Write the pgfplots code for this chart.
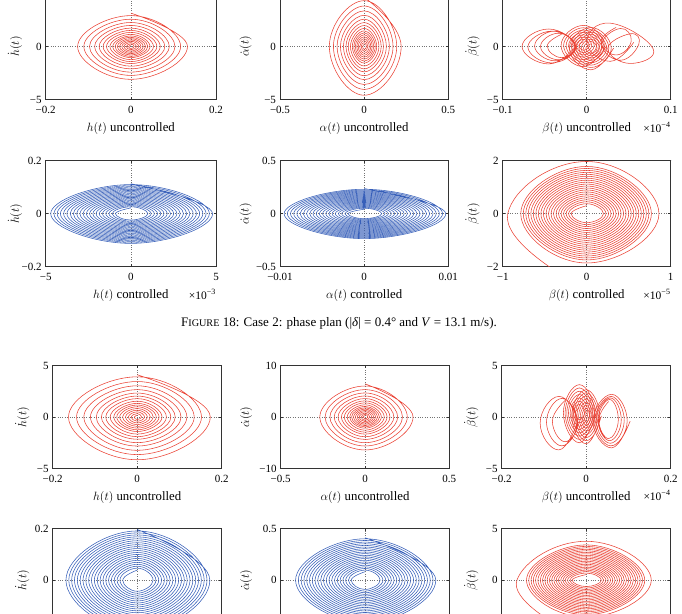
\documentclass[border=0pt]{standalone}
\usepackage{fontspec}
\setmainfont{Liberation Serif}
\usepackage{pgfplots}
\pgfplotsset{compat=1.18}
\definecolor{pr}{RGB}{234,66,52}
\definecolor{pb}{RGB}{55,95,185}
\pgfplotsset{
 pp/.style={scale only axis, width=169pt, height=106pt, anchor=south west,
  scaled ticks=false,
  axis line style={black!80, line width=0.6pt},
  tick align=inside, major tick length=2.5pt, tick style={black!80, line width=0.5pt},
  grid=major, grid style={dotted, black!55, line width=0.6pt},
  tick label style={font=\fontsize{11}{12}\selectfont},
  xticklabel style={yshift=-3pt},
  yticklabel style={xshift=-0.5pt},
  label style={font=\fontsize{12.8}{14}\selectfont},
  xlabel style={at={(axis description cs:0.5,-0.27)}, anchor=center},
  ylabel style={at={(axis description cs:-0.18,0.5)}, anchor=center},
  clip mode=individual},
 rowb/.style={height=103pt, xlabel style={at={(axis description cs:0.5,-0.282)}}},
 colm/.style={ylabel style={at={(axis description cs:-0.205,0.5)}}},
 mult/.style={extra description/.code={\node[anchor=east, font=\fontsize{11.5}{13}\selectfont] at (axis description cs:1.02,-0.262) {×10\textsuperscript{−#1}};}},
 ur/.style={pr, line width=0.55pt, smooth, tension=0.83},
 ub/.style={pb, line width=0.55pt, smooth, tension=0.83},
}
\begin{document}
\begin{tikzpicture}
\path[use as bounding box] (0pt,0pt) rectangle (682pt,613pt);
\begin{scope}
\clip (0pt,0pt) rectangle (682pt,613pt);
% ---------- row 1 ----------
\begin{axis}[pp, at={(45.7pt,513.5pt)}, width=170.3pt, xmin=-0.2,xmax=0.2,ymin=-5,ymax=5,
 xtick={-0.2,0,0.2}, xticklabels={−0.2,0,0.2}, ytick={-5,0,5}, yticklabels={−5,0,5},
 xlabel={$h(t)$ uncontrolled}, ylabel={$\dot{h}(t)$}]
\addplot[ur] coordinates {(0,3.15) (0.1330,0) (0,-3.100) (-0.1250,0) (0,2.914) (0.1170,0) (0,-2.728) (-0.1104,0) (0,2.573) (0.1037,0) (0,-2.418) (-0.0971,0) (0,2.263) (0.0904,0) (0,-2.108) (-0.0851,0) (0,1.984) (0.0798,0) (0,-1.860) (-0.0745,0) (0,1.736) (0.0692,0) (0,-1.612) (-0.0652,0) (0,1.519) (0.0612,0) (0,-1.426) (-0.0572,0) (0,1.333) (0.0532,0) (0,-1.240) (-0.0492,0) (0,1.147) (0.0452,0) (0,-1.054) (-0.0426,0) (0,0.992) (0.0399,0) (0,-0.930) (-0.0372,0) (0,0.868) (0.0346,0) (0,-0.806) (-0.0319,0) (0,0.744) (0.0293,0) (0,-0.682) (-0.0266,0) (0,0.620) (0.0239,0) (0,-0.558) (-0.0213,0) (0,0.496) (0.0186,0) (0,-0.434) (-0.0160,0) (0,0.372) (0.0133,0) (0,-0.310) (-0.0106,0) (0,0.248) (0.0080,0) (0,-0.186) (-0.0053,0) (0,0.124)};
\end{axis}
\begin{axis}[pp, colm, at={(280pt,513.5pt)}, width=168.3pt, xmin=-0.5,xmax=0.5,ymin=-5,ymax=5,
 xtick={-0.5,0,0.5}, xticklabels={−0.5,0,0.5}, ytick={-5,0,5}, yticklabels={−5,0,5},
 xlabel={$\alpha(t)$ uncontrolled}, ylabel={$\dot{\alpha}(t)$}]
\addplot[ur] coordinates {(0,4.65) (0.2200,0) (0,-4.600) (-0.2068,0) (0,4.324) (0.1936,0) (0,-4.048) (-0.1826,0) (0,3.818) (0.1716,0) (0,-3.588) (-0.1606,0) (0,3.358) (0.1496,0) (0,-3.128) (-0.1408,0) (0,2.944) (0.1320,0) (0,-2.760) (-0.1232,0) (0,2.576) (0.1144,0) (0,-2.392) (-0.1078,0) (0,2.254) (0.1012,0) (0,-2.116) (-0.0946,0) (0,1.978) (0.0880,0) (0,-1.840) (-0.0814,0) (0,1.702) (0.0748,0) (0,-1.564) (-0.0704,0) (0,1.472) (0.0660,0) (0,-1.380) (-0.0616,0) (0,1.288) (0.0572,0) (0,-1.196) (-0.0528,0) (0,1.104) (0.0484,0) (0,-1.012) (-0.0440,0) (0,0.920) (0.0396,0) (0,-0.828) (-0.0352,0) (0,0.736) (0.0308,0) (0,-0.644) (-0.0264,0) (0,0.552) (0.0220,0) (0,-0.460) (-0.0176,0) (0,0.368) (0.0132,0) (0,-0.276) (-0.0088,0) (0,0.184)};
\end{axis}
\begin{axis}[pp, mult=4, at={(502.7pt,513.5pt)}, width=168pt, xmin=-0.1,xmax=0.1,ymin=-5,ymax=5,
 xtick={-0.1,0,0.1}, xticklabels={−0.1,0,0.1}, ytick={-5,0,5}, yticklabels={−5,0,5},
 xlabel={$\beta(t)$ uncontrolled}, ylabel={$\dot{\beta}(t)$}]
\addplot[ur] coordinates {(0.0240,0.1) (-0.004,-1.90) (-0.0305,0.1) (-0.004,1.99) (0.0210,0.1) (-0.004,-1.68) (-0.0275,0.1) (-0.004,1.77) (0.0180,0.1) (-0.004,-1.46) (-0.0245,0.1) (-0.004,1.55) (0.0150,0.1) (-0.004,-1.24) (-0.0215,0.1) (-0.004,1.33) (0.0120,0.1) (-0.004,-1.02) (-0.0185,0.1) (-0.004,1.11) (0.0090,0.1) (-0.004,-0.80) (-0.0155,0.1) (-0.004,0.89) (0.0060,0.1) (-0.004,-0.58) (-0.0125,0.1) (-0.004,0.67) (0.0030,0.1) (-0.004,-0.36) (-0.0095,0.1) (-0.004,0.45)};
\addplot[ur] coordinates {(0.0320,-0.15) (0.005,-2.20) (-0.0206,-0.15) (0.005,1.79) (0.0292,-0.15) (0.005,-1.98) (-0.0178,-0.15) (0.005,1.57) (0.0264,-0.15) (0.005,-1.76) (-0.0150,-0.15) (0.005,1.35) (0.0236,-0.15) (0.005,-1.54) (-0.0122,-0.15) (0.005,1.13) (0.0208,-0.15) (0.005,-1.32) (-0.0094,-0.15) (0.005,0.91) (0.0180,-0.15) (0.005,-1.10) (-0.0066,-0.15) (0.005,0.69) (0.0152,-0.15) (0.005,-0.88) (-0.0038,-0.15) (0.005,0.47) (0.0124,-0.15) (0.005,-0.66) (-0.0010,-0.15) (0.005,0.25)};
\addplot[ur] coordinates {(-0.013,0) (-0.045,-1.65) (-0.077,0) (-0.045,1.65) (-0.014,-0.05) (-0.042,-1.55) (-0.070,-0.05) (-0.042,1.45) (-0.014,0.05) (-0.038,-1.35) (-0.062,0.05) (-0.038,1.45) (-0.013,0) (-0.034,-1.25) (-0.055,0) (-0.034,1.25) (-0.013,0.05) (-0.030,-1.05) (-0.047,0.05) (-0.030,1.15)};
\addplot[ur] coordinates {(0.056,0.4) (0.028,-1.4) (0.000,0.4) (0.028,2.2) (0.079,-0.2) (0.052,-1.6) (0.025,-0.2) (0.052,1.2) (0.062,0.2) (0.040,-1.3) (0.018,0.2) (0.040,1.7) (0.053,0.5) (0.035,-0.8) (0.017,0.5) (0.035,1.8)};
\end{axis}
% ---------- row 2 ----------
\begin{axis}[pp, mult=3, at={(45.7pt,346.3pt)}, width=170.3pt, xmin=-5,xmax=5,ymin=-0.2,ymax=0.2,
 xtick={-5,0,5}, xticklabels={−5,0,5}, ytick={-0.2,0,0.2}, yticklabels={−0.2,0,0.2},
 xlabel={$h(t)$ controlled}, ylabel={$\dot{h}(t)$}]
\addplot[ub] coordinates {(0,0.113) (4.800,0) (0,-0.1120) (-4.705,0) (0,0.1098) (4.610,0) (0,-0.1076) (-4.515,0) (0,0.1054) (4.420,0) (0,-0.1032) (-4.325,0) (0,0.1010) (4.230,0) (0,-0.0988) (-4.135,0) (0,0.0966) (4.040,0) (0,-0.0944) (-3.945,0) (0,0.0922) (3.850,0) (0,-0.0900) (-3.755,0) (0,0.0878) (3.660,0) (0,-0.0856) (-3.565,0) (0,0.0834) (3.470,0) (0,-0.0812) (-3.375,0) (0,0.0790) (3.280,0) (0,-0.0768) (-3.185,0) (0,0.0746) (3.090,0) (0,-0.0724) (-2.995,0) (0,0.0702) (2.900,0) (0,-0.0680) (-2.805,0) (0,0.0658) (2.710,0) (0,-0.0636) (-2.615,0) (0,0.0614) (2.520,0) (0,-0.0592) (-2.425,0) (0,0.0570) (2.330,0) (0,-0.0548) (-2.235,0) (0,0.0526) (2.140,0) (0,-0.0504) (-2.045,0) (0,0.0482) (1.950,0) (0,-0.0460) (-1.855,0) (0,0.0438) (1.760,0) (0,-0.0416) (-1.665,0) (0,0.0394) (1.570,0) (0,-0.0372) (-1.475,0) (0,0.0350) (1.380,0) (0,-0.0328) (-1.285,0) (0,0.0306) (1.190,0) (0,-0.0284) (-1.095,0) (0,0.0262) (1.000,0) (0,-0.0240) (-0.905,0) (0,0.0218)};
\end{axis}
\begin{axis}[pp, colm, at={(280pt,346.3pt)}, width=168.3pt, xmin=-0.01,xmax=0.01,ymin=-0.5,ymax=0.5,
 xtick={-0.01,0,0.01}, xticklabels={−0.01,0,0.01}, ytick={-0.5,0,0.5}, yticklabels={−0.5,0,0.5},
 xlabel={$\alpha(t)$ controlled}, ylabel={$\dot{\alpha}(t)$}]
\addplot[ub] coordinates {(0,0.237) (0.00970,0) (0,-0.2350) (-0.00951,0) (0,0.2303) (0.00932,0) (0,-0.2256) (-0.00913,0) (0,0.2209) (0.00894,0) (0,-0.2162) (-0.00875,0) (0,0.2115) (0.00856,0) (0,-0.2068) (-0.00837,0) (0,0.2021) (0.00818,0) (0,-0.1974) (-0.00799,0) (0,0.1927) (0.00780,0) (0,-0.1880) (-0.00761,0) (0,0.1833) (0.00742,0) (0,-0.1786) (-0.00723,0) (0,0.1739) (0.00704,0) (0,-0.1692) (-0.00685,0) (0,0.1645) (0.00666,0) (0,-0.1598) (-0.00647,0) (0,0.1551) (0.00628,0) (0,-0.1504) (-0.00609,0) (0,0.1457) (0.00590,0) (0,-0.1410) (-0.00571,0) (0,0.1363) (0.00552,0) (0,-0.1316) (-0.00533,0) (0,0.1269) (0.00514,0) (0,-0.1222) (-0.00495,0) (0,0.1175) (0.00476,0) (0,-0.1128) (-0.00457,0) (0,0.1081) (0.00438,0) (0,-0.1034) (-0.00419,0) (0,0.0987) (0.00400,0) (0,-0.0940) (-0.00381,0) (0,0.0893) (0.00362,0) (0,-0.0846) (-0.00343,0) (0,0.0799) (0.00324,0) (0,-0.0752) (-0.00305,0) (0,0.0705) (0.00286,0) (0,-0.0658) (-0.00267,0) (0,0.0611) (0.00248,0) (0,-0.0564) (-0.00229,0) (0,0.0517) (0.00210,0) (0,-0.0470) (-0.00191,0) (0,0.0423)};
\end{axis}
\begin{axis}[pp, mult=5, at={(502.7pt,346.3pt)}, width=168pt, xmin=-1,xmax=1,ymin=-2,ymax=2,
 xtick={-1,0,1}, xticklabels={−1,0,1}, ytick={-2,0,2}, yticklabels={−2,0,2},
 xlabel={$\beta(t)$ controlled}, ylabel={$\dot{\beta}(t)$}]
\addplot[ur] coordinates {(-0.30,-2.30) (-0.94,0) (0,1.97) (0.86,0) (0,-1.86) (-0.785,0) (0,1.783) (0.770,0) (0,-1.746) (-0.755,0) (0,1.709) (0.740,0) (0,-1.672) (-0.725,0) (0,1.635) (0.710,0) (0,-1.598) (-0.695,0) (0,1.561) (0.680,0) (0,-1.524) (-0.665,0) (0,1.487) (0.650,0) (0,-1.450) (-0.635,0) (0,1.413) (0.620,0) (0,-1.376) (-0.605,0) (0,1.339) (0.590,0) (0,-1.302) (-0.575,0) (0,1.265) (0.560,0) (0,-1.228) (-0.545,0) (0,1.191) (0.530,0) (0,-1.154) (-0.515,0) (0,1.117) (0.500,0) (0,-1.080) (-0.485,0) (0,1.043) (0.470,0) (0,-1.006) (-0.455,0) (0,0.969) (0.440,0) (0,-0.932) (-0.425,0) (0,0.895) (0.410,0) (0,-0.858) (-0.395,0) (0,0.821) (0.380,0) (0,-0.784) (-0.365,0) (0,0.747) (0.350,0) (0,-0.710) (-0.335,0) (0,0.673) (0.320,0) (0,-0.636) (-0.305,0) (0,0.599) (0.290,0) (0,-0.562) (-0.275,0) (0,0.525) (0.260,0) (0,-0.488) (-0.245,0) (0,0.451) (0.230,0) (0,-0.414) (-0.215,0) (0,0.377) (0.200,0) (0,-0.340) (-0.185,0) (0,0.303)};
\end{axis}
% ---------- row 3 ----------
\begin{axis}[pp, rowb, at={(52.7pt,144.5pt)}, width=169pt, xmin=-0.2,xmax=0.2,ymin=-5,ymax=5,
 xtick={-0.2,0,0.2}, xticklabels={−0.2,0,0.2}, ytick={-5,0,5}, yticklabels={−5,0,5},
 xlabel={$h(t)$ uncontrolled}, ylabel={$\dot{h}(t)$}]
\addplot[ur] coordinates {(0,4.10) (0.1730,0) (0,-4.150) (-0.1626,0) (0,3.901) (0.1522,0) (0,-3.652) (-0.1436,0) (0,3.445) (0.1349,0) (0,-3.237) (-0.1263,0) (0,3.030) (0.1176,0) (0,-2.822) (-0.1107,0) (0,2.656) (0.1038,0) (0,-2.490) (-0.0969,0) (0,2.324) (0.0900,0) (0,-2.158) (-0.0848,0) (0,2.034) (0.0796,0) (0,-1.909) (-0.0744,0) (0,1.785) (0.0692,0) (0,-1.660) (-0.0640,0) (0,1.536) (0.0588,0) (0,-1.411) (-0.0554,0) (0,1.328) (0.0519,0) (0,-1.245) (-0.0484,0) (0,1.162) (0.0450,0) (0,-1.079) (-0.0415,0) (0,0.996) (0.0381,0) (0,-0.913) (-0.0346,0) (0,0.830) (0.0311,0) (0,-0.747) (-0.0277,0) (0,0.664) (0.0242,0) (0,-0.581) (-0.0208,0) (0,0.498) (0.0173,0) (0,-0.415) (-0.0138,0) (0,0.332) (0.0104,0) (0,-0.249) (-0.0069,0) (0,0.166)};
\end{axis}
\begin{axis}[pp, rowb, colm, at={(280.7pt,144.5pt)}, width=168.6pt, xmin=-0.5,xmax=0.5,ymin=-10,ymax=10,
 xtick={-0.5,0,0.5}, xticklabels={−0.5,0,0.5}, ytick={-10,0,10}, yticklabels={−10,0,10},
 xlabel={$\alpha(t)$ uncontrolled}, ylabel={$\dot{\alpha}(t)$}]
\addplot[ur] coordinates {(0,6.45) (0.2850,0) (0,-6.400) (-0.2679,0) (0,6.016) (0.2508,0) (0,-5.632) (-0.2366,0) (0,5.312) (0.2223,0) (0,-4.992) (-0.2081,0) (0,4.672) (0.1938,0) (0,-4.352) (-0.1824,0) (0,4.096) (0.1710,0) (0,-3.840) (-0.1596,0) (0,3.584) (0.1482,0) (0,-3.328) (-0.1397,0) (0,3.136) (0.1311,0) (0,-2.944) (-0.1226,0) (0,2.752) (0.1140,0) (0,-2.560) (-0.1055,0) (0,2.368) (0.0969,0) (0,-2.176) (-0.0912,0) (0,2.048) (0.0855,0) (0,-1.920) (-0.0798,0) (0,1.792) (0.0741,0) (0,-1.664) (-0.0684,0) (0,1.536) (0.0627,0) (0,-1.408) (-0.0570,0) (0,1.280) (0.0513,0) (0,-1.152) (-0.0456,0) (0,1.024) (0.0399,0) (0,-0.896) (-0.0342,0) (0,0.768) (0.0285,0) (0,-0.640) (-0.0228,0) (0,0.512) (0.0171,0) (0,-0.384) (-0.0114,0) (0,0.256)};
\end{axis}
\begin{axis}[pp, rowb, mult=4, at={(501.7pt,144.5pt)}, width=169pt, xmin=-0.2,xmax=0.2,ymin=-5,ymax=5,
 xtick={-0.2,0,0.2}, xticklabels={−0.2,0,0.2}, ytick={-5,0,5}, yticklabels={−5,0,5},
 xlabel={$\beta(t)$ uncontrolled}, ylabel={$\dot{\beta}(t)$}]
\addplot[ur] coordinates {(0.024,0.4) (-0.016,-2.50) (-0.054,0.4) (-0.016,3.14) (0.020,0.4) (-0.016,-2.18) (-0.050,0.4) (-0.016,2.82) (0.016,0.4) (-0.016,-1.86) (-0.046,0.4) (-0.016,2.50) (0.012,0.4) (-0.016,-1.54) (-0.042,0.4) (-0.016,2.18) (0.008,0.4) (-0.016,-1.22) (-0.038,0.4) (-0.016,1.86) (0.004,0.4) (-0.016,-0.90) (-0.034,0.4) (-0.016,1.54) (0.000,0.4) (-0.016,-0.58) (-0.030,0.4) (-0.016,1.22) (-0.004,0.4) (-0.016,-0.26) (-0.026,0.4) (-0.016,0.90)};
\addplot[ur] coordinates {(0.036,0.1) (0,-2.60) (-0.034,0.1) (0,2.65) (0.032,0.1) (0,-2.30) (-0.030,0.1) (0,2.35) (0.028,0.1) (0,-2.00) (-0.026,0.1) (0,2.05) (0.024,0.1) (0,-1.70) (-0.022,0.1) (0,1.75) (0.020,0.1) (0,-1.40) (-0.018,0.1) (0,1.45) (0.016,0.1) (0,-1.10) (-0.014,0.1) (0,1.15) (0.012,0.1) (0,-0.80) (-0.010,0.1) (0,0.85) (0.008,0.1) (0,-0.50) (-0.006,0.1) (0,0.55)};
\addplot[ur] coordinates {(-0.021,-0.6) (-0.065,-3.2) (-0.109,-0.6) (-0.065,2.0) (-0.022,-0.5) (-0.058,-2.8) (-0.094,-0.5) (-0.058,1.8) (-0.020,-0.4) (-0.050,-2.4) (-0.080,-0.4) (-0.050,1.6)};
\addplot[ur] coordinates {(0.104,-0.4) (0.060,-3.0) (0.016,-0.4) (0.060,2.2) (0.097,-0.4) (0.0585,-2.8) (0.020,-0.4) (0.0585,2.0) (0.090,-0.35) (0.057,-2.55) (0.024,-0.35) (0.057,1.85) (0.083,-0.3) (0.0555,-2.3) (0.028,-0.3) (0.0555,1.7) (0.076,-0.3) (0.053,-2.1) (0.030,-0.3) (0.053,1.5)};
\end{axis}
% ---------- row 4 (cropped) ----------
\begin{axis}[pp, rowb, at={(52.7pt,-18.7pt)}, width=169pt, xmin=-5,xmax=5,ymin=-0.2,ymax=0.2,
 xtick={-5,0,5}, xticklabels={−5,0,5}, ytick={-0.2,0,0.2}, yticklabels={−0.2,0,0.2},
 ylabel={$\dot{h}(t)$}]
\addplot[ub] coordinates {(0,0.197) (4.300,0) (0,-0.1950) (-4.216,0) (0,0.1912) (4.132,0) (0,-0.1874) (-4.048,0) (0,0.1836) (3.964,0) (0,-0.1798) (-3.880,0) (0,0.1760) (3.796,0) (0,-0.1722) (-3.712,0) (0,0.1684) (3.628,0) (0,-0.1646) (-3.544,0) (0,0.1608) (3.460,0) (0,-0.1570) (-3.376,0) (0,0.1532) (3.292,0) (0,-0.1494) (-3.208,0) (0,0.1456) (3.124,0) (0,-0.1418) (-3.040,0) (0,0.1380) (2.956,0) (0,-0.1342) (-2.872,0) (0,0.1304) (2.788,0) (0,-0.1266) (-2.704,0) (0,0.1228) (2.620,0) (0,-0.1190) (-2.536,0) (0,0.1152) (2.452,0) (0,-0.1114) (-2.368,0) (0,0.1076) (2.284,0) (0,-0.1038) (-2.200,0) (0,0.1000) (2.116,0) (0,-0.0962) (-2.032,0) (0,0.0924) (1.948,0) (0,-0.0886) (-1.864,0) (0,0.0848) (1.780,0) (0,-0.0810) (-1.696,0) (0,0.0772) (1.612,0) (0,-0.0734) (-1.528,0) (0,0.0696) (1.444,0) (0,-0.0658) (-1.360,0) (0,0.0620) (1.276,0) (0,-0.0582) (-1.192,0) (0,0.0544) (1.108,0) (0,-0.0506) (-1.024,0) (0,0.0468) (0.940,0) (0,-0.0430) (-0.856,0) (0,0.0392)};
\end{axis}
\begin{axis}[pp, rowb, colm, at={(280.7pt,-18.7pt)}, width=168.6pt, xmin=-0.01,xmax=0.01,ymin=-0.5,ymax=0.5,
 xtick={-0.01,0,0.01}, xticklabels={−0.01,0,0.01}, ytick={-0.5,0,0.5}, yticklabels={−0.5,0,0.5},
 ylabel={$\dot{\alpha}(t)$}]
\addplot[ub] coordinates {(0,0.412) (0.008400,0) (0,-0.410) (-0.008235,0) (0,0.402) (0.008070,0) (0,-0.394) (-0.007905,0) (0,0.386) (0.007740,0) (0,-0.378) (-0.007575,0) (0,0.370) (0.007410,0) (0,-0.362) (-0.007245,0) (0,0.354) (0.007080,0) (0,-0.346) (-0.006915,0) (0,0.338) (0.006750,0) (0,-0.330) (-0.006585,0) (0,0.322) (0.006420,0) (0,-0.314) (-0.006255,0) (0,0.306) (0.006090,0) (0,-0.298) (-0.005925,0) (0,0.290) (0.005760,0) (0,-0.282) (-0.005595,0) (0,0.274) (0.005430,0) (0,-0.266) (-0.005265,0) (0,0.258) (0.005100,0) (0,-0.250) (-0.004935,0) (0,0.242) (0.004770,0) (0,-0.234) (-0.004605,0) (0,0.226) (0.004440,0) (0,-0.218) (-0.004275,0) (0,0.210) (0.004110,0) (0,-0.202) (-0.003945,0) (0,0.194) (0.003780,0) (0,-0.186) (-0.003615,0) (0,0.178) (0.003450,0) (0,-0.170) (-0.003285,0) (0,0.162) (0.003120,0) (0,-0.154) (-0.002955,0) (0,0.146) (0.002790,0) (0,-0.138) (-0.002625,0) (0,0.130) (0.002460,0) (0,-0.122) (-0.002295,0) (0,0.114) (0.002130,0) (0,-0.106) (-0.001965,0) (0,0.098) (0.001800,0) (0,-0.090) (-0.001635,0) (0,0.082)};
\end{axis}
\begin{axis}[pp, rowb, at={(501.7pt,-18.7pt)}, width=169pt, xmin=-1,xmax=1,ymin=-5,ymax=5,
 xtick={-1,0,1}, xticklabels={−1,0,1}, ytick={-5,0,5}, yticklabels={−5,0,5},
 ylabel={$\dot{\beta}(t)$}]
\addplot[ur] coordinates {(-0.35,-4.3) (-0.82,0) (0,3.78) (0.77,0) (0,-3.60) (-0.7065,0) (0,3.428) (0.6930,0) (0,-3.356) (-0.6795,0) (0,3.284) (0.6660,0) (0,-3.212) (-0.6525,0) (0,3.140) (0.6390,0) (0,-3.068) (-0.6255,0) (0,2.996) (0.6120,0) (0,-2.924) (-0.5985,0) (0,2.852) (0.5850,0) (0,-2.780) (-0.5715,0) (0,2.708) (0.5580,0) (0,-2.636) (-0.5445,0) (0,2.564) (0.5310,0) (0,-2.492) (-0.5175,0) (0,2.420) (0.5040,0) (0,-2.348) (-0.4905,0) (0,2.276) (0.4770,0) (0,-2.204) (-0.4635,0) (0,2.132) (0.4500,0) (0,-2.060) (-0.4365,0) (0,1.988) (0.4230,0) (0,-1.916) (-0.4095,0) (0,1.844) (0.3960,0) (0,-1.772) (-0.3825,0) (0,1.700) (0.3690,0) (0,-1.628) (-0.3555,0) (0,1.556) (0.3420,0) (0,-1.484) (-0.3285,0) (0,1.412) (0.3150,0) (0,-1.340) (-0.3015,0) (0,1.268) (0.2880,0) (0,-1.196) (-0.2745,0) (0,1.124) (0.2610,0) (0,-1.052) (-0.2475,0) (0,0.980) (0.2340,0) (0,-0.908) (-0.2205,0) (0,0.836) (0.2070,0) (0,-0.764) (-0.1935,0) (0,0.692) (0.1800,0) (0,-0.620) (-0.1665,0) (0,0.548)};
\end{axis}
% ---------- caption ----------
\node[font=\fontsize{13}{15}\selectfont] at (339pt,290pt) {F{\fontsize{10.2}{11}\selectfont IGURE} 18: Case 2: phase plan (|\textit{δ}| = 0.4° and \textit{V} = 13.1 m/s).};
\end{scope}
\end{tikzpicture}
\end{document}
